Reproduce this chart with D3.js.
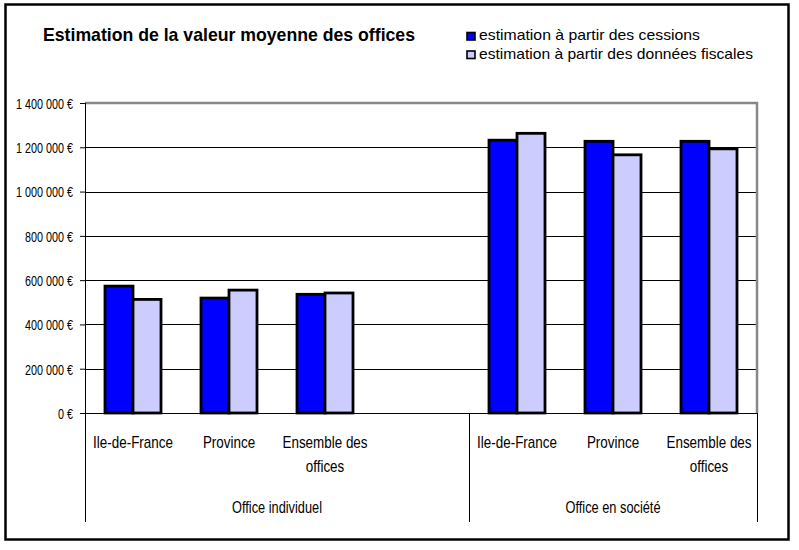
<!DOCTYPE html>
<html><head><meta charset="utf-8">
<script src="https://cdnjs.cloudflare.com/ajax/libs/d3/7.8.5/d3.min.js"></script>
<style>
html,body{margin:0;padding:0;background:#fff;}
svg{display:block;font-family:"Liberation Sans",Arial,sans-serif;}
</style></head>
<body><svg id="chart" width="799" height="550"></svg>
<script>
const title = "Estimation de la valeur moyenne des offices";
const groups = ["Office individuel", "Office en société"];
const categories = ["Ile-de-France", "Province", "Ensemble des offices", "", "Ile-de-France", "Province", "Ensemble des offices"];
const categoryGroup = [0, 0, 0, 0, 1, 1, 1];
const seriesNames = ["estimation à partir des cessions", "estimation à partir des données fiscales"];
const cessions = [573000, 519000, 536000, null, 1232000, 1227000, 1227000];
const fiscales = [513000, 555000, 542000, null, 1263000, 1166000, 1193000];
const tickValues = [0, 200000, 400000, 600000, 800000, 1000000, 1200000, 1400000];
const seriesColors = ["#0000ff", "#ccccff"];

const svg = d3.select("#chart");
const L = 85, R = 757, T = 103, B = 413, AXB = 522;

// outer frame
svg.append("rect").attr("x", 5.5).attr("y", 4.5).attr("width", 783).attr("height", 535)
  .attr("fill", "none").attr("stroke", "#000").attr("stroke-width", 2.5);

const slots = categories.map((c, i) => i);
const x = d3.scaleBand().domain(slots).range([L, R]).padding(0);
const x1 = d3.scaleBand().domain([0, 1]).range([0, 56]);
const y = d3.scaleLinear().domain([0, 1400000]).range([B, T]);

const fr = d3.formatLocale({decimal: ",", thousands: "\u00a0", grouping: [3], currency: ["", "\u00a0€"]});
const fmt = v => fr.format("$,")(v).replace(/\u00a0/g, " ");

// gridlines
svg.append("g").selectAll("line").data(tickValues.filter(v => v > 0 && v < 1400000)).join("line")
  .attr("x1", L).attr("x2", R).attr("y1", d => Math.round(y(d)) + 0.5).attr("y2", d => Math.round(y(d)) + 0.5)
  .attr("stroke", "#000").attr("stroke-width", 1);

// plot border top/right gray
svg.append("path").attr("d", `M${L},${y(1400000)}H${R}V${B}`)
  .attr("fill", "none").attr("stroke", "#888").attr("stroke-width", 2.5);

// bars
const data = [];
categories.forEach((c, i) => {
  [cessions[i], fiscales[i]].forEach((v, s) => { if (v != null) data.push({i, s, v}); });
});
svg.append("g").selectAll("rect").data(data).join("rect")
  .attr("x", d => x(d.i) + (x.bandwidth() - 56) / 2 + x1(d.s))
  .attr("width", x1.bandwidth())
  .attr("y", d => y(d.v))
  .attr("height", d => y(0) - y(d.v))
  .attr("fill", d => seriesColors[d.s])
  .attr("stroke", "#000").attr("stroke-width", 2.8);

// zero line
svg.append("line").attr("x1", L).attr("x2", R).attr("y1", B + 0.5).attr("y2", B + 0.5)
  .attr("stroke", "#000").attr("stroke-width", 1.2);

// y axis
const yAxis = svg.append("g").attr("transform", `translate(${L},0)`)
  .call(d3.axisLeft(y).tickValues(tickValues).tickFormat(fmt).tickSize(5).tickPadding(0));
yAxis.select(".domain").remove();
yAxis.selectAll(".tick line").attr("stroke", "#000");
yAxis.selectAll(".tick text").attr("x", 0).attr("dy", "0.36em")
  .attr("transform", "translate(-12,0) scale(0.72,1)")
  .attr("font-size", 15).attr("fill", "#000")
  .attr("font-family", "Liberation Sans, Arial, sans-serif");
svg.append("line").attr("x1", L + 0.5).attr("x2", L + 0.5).attr("y1", T).attr("y2", AXB)
  .attr("stroke", "#000").attr("stroke-width", 1);

// group separators
const groupBounds = groups.map((g, gi) => {
  const idx = slots.filter(i => categoryGroup[i] === gi);
  return {g, x0: x(idx[0]), x1: x(idx[idx.length - 1]) + x.bandwidth()};
});
svg.append("g").selectAll("line").data(groupBounds).join("line")
  .attr("x1", d => Math.round(d.x1) + 0.5).attr("x2", d => Math.round(d.x1) + 0.5)
  .attr("y1", B).attr("y2", AXB).attr("stroke", "#000").attr("stroke-width", 1);

// category labels
const catLabels = svg.append("g");
categories.forEach((c, i) => {
  if (!c) return;
  const lines = c === "Ensemble des offices" ? ["Ensemble des", "offices"] : [c];
  const g = catLabels.append("g").attr("transform", `translate(${x(i) + x.bandwidth() / 2},448) scale(0.84,1)`);
  lines.forEach((t, k) => g.append("text").attr("y", k * 24).attr("text-anchor", "middle")
    .attr("font-size", 16).attr("fill", "#000").text(t));
});
// group labels
svg.append("g").selectAll("g").data(groupBounds).join("g")
  .attr("transform", d => `translate(${(d.x0 + d.x1) / 2},513) scale(0.8,1)`)
  .append("text").attr("text-anchor", "middle").attr("font-size", 16).attr("fill", "#000").text(d => d.g);

// title
svg.append("text").attr("x", 43).attr("y", 41).attr("font-size", 18.5).attr("font-weight", "bold")
  .attr("textLength", 372).attr("lengthAdjust", "spacingAndGlyphs").attr("fill", "#000").text(title);

// legend
const legendWidths = [221, 274];
const lg = svg.append("g");
seriesNames.forEach((s, k) => {
  const yy = 40 + k * 18.5;
  lg.append("rect").attr("x", 467).attr("y", yy - 7.5).attr("width", 8).attr("height", 7.5)
    .attr("fill", seriesColors[k]).attr("stroke", "#000").attr("stroke-width", 1.6);
  lg.append("text").attr("x", 479).attr("y", yy).attr("font-size", 14.5).attr("fill", "#000")
    .attr("textLength", legendWidths[k]).attr("lengthAdjust", "spacingAndGlyphs").text(s);
});
</script></body></html>
